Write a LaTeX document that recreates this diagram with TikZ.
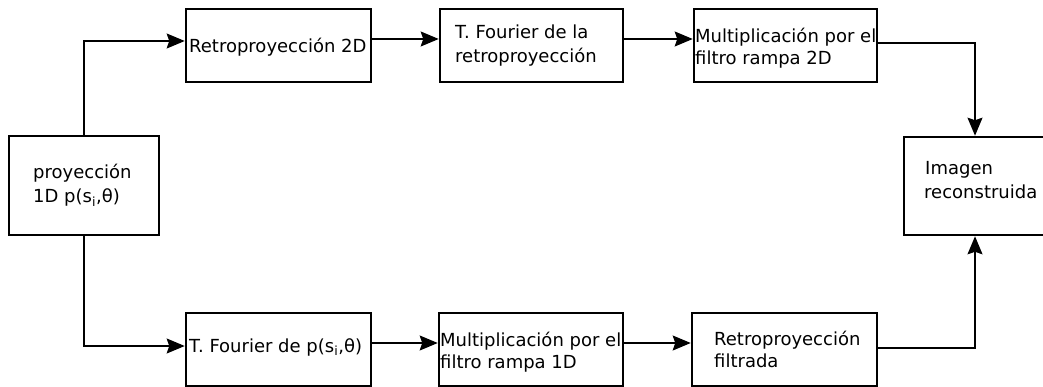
\documentclass[tikz,border=0pt]{standalone}
\usepackage{fontspec}
\setmainfont{DejaVu Sans}
\usetikzlibrary{arrows.meta}
\begin{document}
\begin{tikzpicture}[x=1pt,y=-1pt,
  box/.style={draw, line width=2.6pt, rectangle, inner sep=0pt},
  conn/.style={line width=1.3pt, -{Stealth[length=18pt,width=15pt,inset=2.5pt]}},
  lbl/.style={anchor=base west, inner sep=0pt, font=\fontsize{18pt}{22pt}\selectfont},
]
\useasboundingbox (0,0) rectangle (1043,387);
\clip (0,0) rectangle (1043,387);

% processing blocks
\node[box, minimum width=150pt, minimum height=99pt] (pd)  at (84,185.5) {};
\node[box, minimum width=185pt, minimum height=73pt] (r2d) at (278.5,45.5) {};
\node[box, minimum width=183pt, minimum height=73pt] (tft) at (531.5,45.5) {};
\node[box, minimum width=183pt, minimum height=73pt] (m2d) at (785.5,45.5) {};
\node[box, minimum width=185pt, minimum height=73pt] (tfp) at (278.5,349.5) {};
\node[box, minimum width=184pt, minimum height=73pt] (m1d) at (531,349.5) {};
\node[box, minimum width=185pt, minimum height=73pt] (rf)  at (784.5,349.5) {};
\node[box, minimum width=142pt, minimum height=98pt] (img) at (975,186) {};

% block texts
\node[lbl] (pd-a)  at (33,179)  {proyección};
\node[lbl] (pd-b)  at (33,203)  {1D p(s\textsubscript{i},θ)};
\node[lbl] (r2d-a) at (189,53)  {Retroproyección 2D};
\node[lbl] (tft-a) at (455,39)  {T. Fourier de la};
\node[lbl] (tft-b) at (455,63)  {retroproyección};
\node[lbl] (m2d-a) at (695,43)  {Multiplicación por el};
\node[lbl] (m2d-b) at (695,65)  {filtro rampa 2D};
\node[lbl] (tfp-a) at (189,352) {T. Fourier de p(s\textsubscript{i},θ)};
\node[lbl] (m1d-a) at (440,346) {Multiplicación por el};
\node[lbl] (m1d-b) at (440,368) {filtro rampa 1D};
\node[lbl] (rf-a)  at (714,345) {Retroproyección};
\node[lbl] (rf-b)  at (714,367) {filtrada};
\node[lbl] (img-a) at (925,175) {Imagen};
\node[lbl] (img-b) at (924,199) {reconstruida};

% upper branch
\draw[conn] (pd.north) |- ([yshift=4.5pt]r2d.west);
\draw[conn] ([yshift=6.5pt]r2d.east) -- ([yshift=6.5pt]tft.west);
\draw[conn] ([yshift=6.5pt]tft.east) -- ([yshift=6.5pt]m2d.west);
\draw[conn] ([yshift=2.5pt]m2d.east) -| (img.north);

% lower branch
\draw[conn] (pd.south) |- ([yshift=3.5pt]tfp.west);
\draw[conn] ([yshift=6.5pt]tfp.east) -- ([yshift=6.5pt]m1d.west);
\draw[conn] ([yshift=6.5pt]m1d.east) -- ([yshift=6.5pt]rf.west);
\draw[conn] ([yshift=1.5pt]rf.east) -| (img.south);
\end{tikzpicture}
\end{document}
